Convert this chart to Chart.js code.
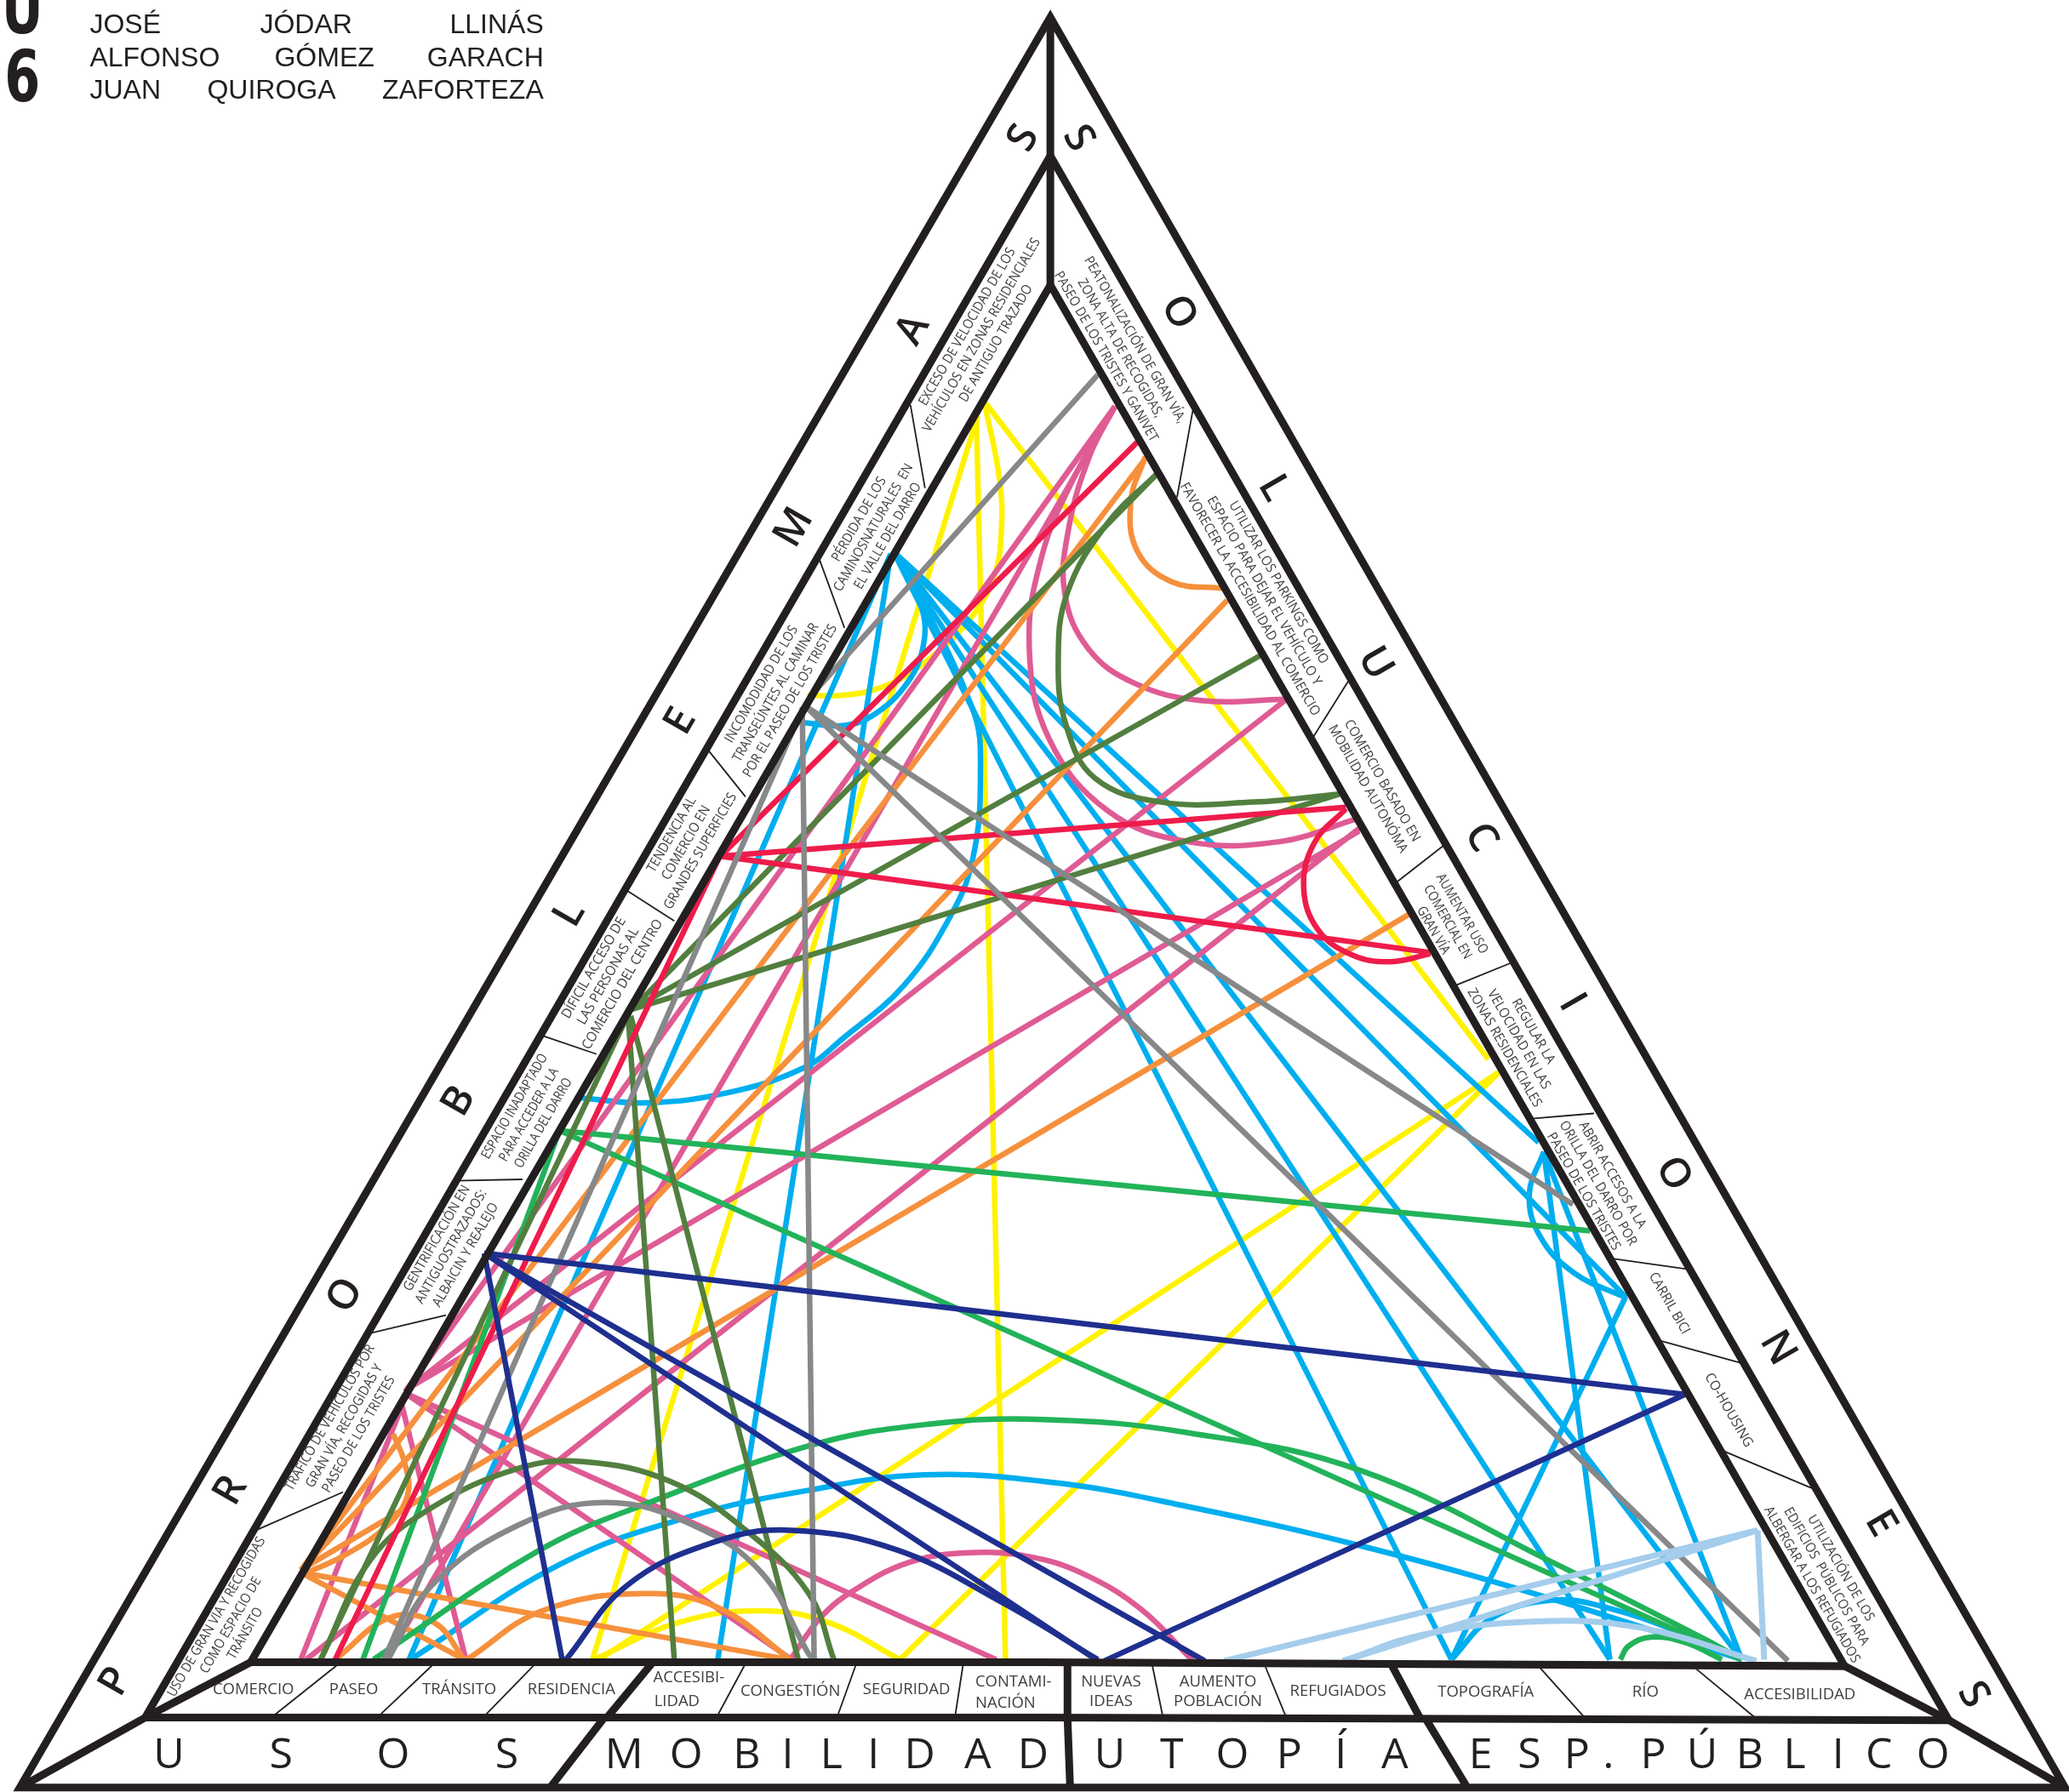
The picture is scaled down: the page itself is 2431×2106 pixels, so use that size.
<!DOCTYPE html>
<html>
<head>
<meta charset="utf-8">
<title>Problemas y soluciones</title>
<script src="https://cdn.jsdelivr.net/npm/chart.js@4/dist/chart.umd.min.js"></script>
<style>
  html, body { margin: 0; padding: 0; background: #fff; }
  canvas { display: block; }
</style>
</head>
<body>
<canvas id="triangle" width="2431" height="2106" style="width:2431px;height:2106px"></canvas>
<script>
const yellowLinks = [
  [[745,303],[1128,803]],
  [[741,315],[449,1258]],
  [[740,318],[762,1258]],
  [[1137,812],[454,1258]],
  [[1137,812],[682,1258]],
  [[746,305],[757,360],[759,400],[753,438],[732,473],[697,505],[668,521],[639,527],[612,527]],
  [[450,1258],[514,1230],[576,1221],[628,1230],[682,1258]]
];
const cyanLinks = [
  [[677,418],[1166,866]],
  [[677,418],[1232,983]],
  [[677,418],[1320,1258]],
  [[677,418],[1220,1258]],
  [[677,418],[1100,1258]],
  [[675,420],[310,1258]],
  [[675,420],[544,1258]],
  [[1232,983],[1100,1258]],
  [[1170,873],[1220,1258]],
  [[1170,873],[1320,1258]],
  [[678,417],[698,459],[700,488],[688,517],[662,542],[639,550],[610,548]],
  [[678,417],[737,537],[743,589],[737,652],[720,695],[685,747],[639,787],[610,809],[553,828],[490,836],[438,832]],
  [[311,1258],[426,1185],[525,1149],[611,1130],[700,1118],[800,1124],[900,1142],[1032,1172],[1176,1212],[1320,1258]],
  [[1100,1258],[1130,1227],[1176,1213],[1219,1219],[1277,1239],[1320,1258]],
  [[1170,873],[1159,905],[1167,937],[1193,965],[1233,984]]
];
const pinkLinks = [
  [[845,308],[307,1055]],
  [[845,308],[293,1258]],
  [[307,1056],[600,1258]],
  [[307,1056],[755,1258]],
  [[304,1063],[353,1258]],
  [[303,1070],[228,1258]],
  [[232,1258],[1030,628]],
  [[310,1052],[975,530]],
  [[310,1052],[1030,630]],
  [[845,308],[826,345],[810,400],[807,450],[825,492],[860,518],[910,531],[975,530]],
  [[845,308],[815,360],[790,420],[780,490],[795,560],[840,615],[900,638],[970,638],[1027,621]],
  [[599,1258],[622,1226],[648,1205],[690,1184],[735,1177],[780,1180],[821,1193],[865,1220],[904,1259]]
];
const redLinks = [
  [[546,649],[1020,612]],
  [[546,649],[1084,722]],
  [[547,648],[862,335]],
  [[545,650],[254,1258]],
  [[1020,613],[996,639],[988,673],[999,705],[1025,724],[1054,729],[1084,723]]
];
const orangeLinks = [
  [[228,1190],[1068,693]],
  [[228,1190],[870,345]],
  [[228,1190],[930,455]],
  [[228,1192],[598,1258]],
  [[228,1192],[352,1258]],
  [[868,346],[857,380],[862,418],[888,441],[926,446]],
  [[228,1194],[261,1179],[294,1156],[309,1133],[307,1110],[298,1087]],
  [[354,1258],[411,1221],[489,1208],[545,1219],[599,1258]],
  [[254,1258],[296,1226],[329,1230],[352,1258]]
];
const darkGreenLinks = [
  [[478,765],[243,1258]],
  [[479,765],[1015,602]],
  [[479,765],[955,497]],
  [[479,765],[876,360]],
  [[476,770],[511,1258]],
  [[478,770],[605,1258]],
  [[243,1258],[281,1182],[327,1143],[393,1113],[442,1108],[508,1123],[564,1159],[613,1208],[632,1258]],
  [[878,358],[839,397],[809,449],[802,500],[808,550],[830,590],[880,608],[950,608],[1015,602]]
];
const greenLinks = [
  [[424,857],[1205,933]],
  [[424,857],[1320,1258]],
  [[424,857],[275,1258]],
  [[283,1258],[409,1175],[492,1139],[613,1096],[700,1080],[790,1076],[900,1086],[1032,1115],[1176,1184],[1291,1242],[1320,1258]],
  [[1228,1258],[1234,1248],[1251,1241],[1277,1245],[1305,1258]]
];
const greyLinks = [
  [[610,535],[1355,1259]],
  [[610,535],[1192,913]],
  [[608,536],[617,1258]],
  [[603,549],[291,1258]],
  [[832,284],[614,528]],
  [[294,1258],[327,1202],[393,1156],[459,1139],[525,1156],[577,1192],[613,1254],[617,1258]]
];
const navyLinks = [
  [[367,950],[1277,1057]],
  [[367,950],[832,1259]],
  [[367,950],[913,1259]],
  [[367,950],[426,1258]],
  [[837,1259],[1277,1057]],
  [[429,1258],[475,1202],[541,1169],[600,1160],[680,1175],[760,1215],[832,1258]]
];
const lightBlueLinks = [
  [[928,1259],[1332,1160]],
  [[1018,1259],[1332,1160]],
  [[1018,1259],[1079,1239],[1166,1229],[1244,1234],[1331,1259]],
  [[1332,1160],[1337,1258]]
];

// frame of the triangle
const frameTriangles = [
  [[790,1355],[15,1355],[796,13],[1565,1355],[790,1355]],
  [[790,1302],[110,1302],[796,118],[1477,1304],[790,1302]],
  [[790,1260],[190,1260],[796,216],[1398,1263],[790,1260]]
];
const frameSpine = [[796,13],[796,216]];
const frameThick = [
  [[494,1261],[460,1302]],
  [[458,1302],[417,1355]],
  [[809,1260],[809,1302]],
  [[809,1302],[811,1355]],
  [[1054,1261],[1076,1302]],
  [[1080,1302],[1112,1355]],
  [[190,1260],[110,1302]],
  [[110,1302],[15,1355]],
  [[1398,1263],[1477,1304]],
  [[1477,1304],[1565,1355]]
];
const frameThin = [
  [[257,1261],[208,1300]], [[329,1261],[288,1300]], [[406,1261],[368,1300]],
  [[565,1261],[544,1300]], [[649,1261],[635,1300]], [[730,1261],[724,1300]],
  [[873,1261],[881,1300]], [[958,1261],[974,1300]],
  [[1166,1263],[1201,1302]], [[1283,1263],[1330,1302]],
  [[690,307],[701,370]], [[621,424],[640,476]], [[537,569],[565,604]],
  [[475,675],[511,698]], [[411,785],[452,799]], [[345,895],[396,894]],
  [[279,1011],[338,997]], [[194,1160],[260,1131]],
  [[904,311],[892,377]], [[1022,516],[995,559]], [[1094,641],[1058,669]],
  [[1145,730],[1103,747]], [[1208,844],[1161,848]], [[1278,962],[1222,954]],
  [[1319,1033],[1257,1016]], [[1373,1128],[1304,1099]]
];

// texts
const problemTexts = [
  ['USO DE GRAN VÍA Y RECOGIDAS','COMO ESPACIO DE','TRÁNSITO'],
  ['TRÁFICO DE VEHÍCULOS POR','GRAN VÍA, RECOGIDAS Y','PASEO DE LOS TRISTES'],
  ['GENTRIFICACIÓN EN','ANTIGUOSTRAZADOS:','ALBAICIN Y REALEJO'],
  ['ESPACIO INADAPTADO','PARA ACCEDER A LA','ORILLA DEL DARRO'],
  ['DÍFICIL ACCESO DE','LAS PERSONAS AL','COMERCIO DEL CENTRO'],
  ['TENDENCIA AL','COMERCIO EN','GRANDES SUPERFICIES'],
  ['INCOMODIDAD DE LOS','TRANSEÚNTES AL CAMINAR','POR EL PASEO DE LOS TRISTES'],
  ['PÉRDIDA DE LOS','CAMINOSNATURALES  EN','EL VALLE DEL DARRO'],
  ['EXCESO DE VELOCIDAD DE LOS','VEHÍCULOS EN ZONAS RESIDENCIALES','DE ANTIGUO TRAZADO']
];
const problemAnchors = [[175,1232],[261,1081],[342,945],[401,845],[461,740],[520,639],[588,525],[662,400],[744,254]];
const problemLengths = [138,126,98,90,112,100,132,110,168];

const solutionTexts = [
  ['PEATONALIZACIÓN DE GRAN VÍA,','ZONA ALTA DE RECOGIDAS,','PASEO DE LOS TRISTES Y GANIVET'],
  ['UTILIZAR LOS PARKINGS COMO','ESPACIO PARA DEJAR EL VEHÍCULO Y','FAVORECER LA ACCESIBILIDAD AL COMERCIO'],
  ['COMERCIO BASADO EN','MOBILIDAD AUTONÓMA'],
  ['AUMENTAR USO','COMERCIAL EN','GRAN VÍA'],
  ['REGULAR LA','VELOCIDAD EN LAS','ZONAS RESIDENCIALES'],
  ['ABRIR ACCESOS A LA','ORILLA DEL DARRO POR','PASEO DE LOS TRISTES'],
  ['CARRIL BICI'],
  ['CO-HOUSING'],
  ['UTILIZACIÓN DE LOS','EDIFICIOS  PÚBLICOS PARA','ALBERGAR A LOS REFUGIADOS']
];
const solutionAnchors = [[849,264],[958,448],[1042,595],[1097,699],[1151,788],[1211,897],[1265,988],[1310,1069],[1384,1195]];
const solutionLengths = [147,202,110,68,102,107,52,63,135];

const bottomTexts = ['COMERCIO','PASEO','TRÁNSITO','RESIDENCIA','ACCESIBI-','LIDAD','CONGESTIÓN','SEGURIDAD','CONTAMI-','NACIÓN',
  'NUEVAS','IDEAS','AUMENTO','POBLACIÓN','REFUGIADOS','TOPOGRAFÍA','RÍO','ACCESIBILIDAD'];
const bottomAnchors = [[192,1281],[268,1281],[348,1281],[433,1281],[522,1272],[513,1290],[599,1282],[687,1281],[768,1275],[762,1291],
  [842,1275],[842,1290],[923,1275],[923,1290],[1014,1282],[1126,1283],[1247,1283],[1364,1285]];

const bandLetters = ['U','S','O','S','M','O','B','I','L','I','D','A','D','U','T','O','P','Í','A','E','S','P','.','P','Ú','B','L','I','C','O'];
const bandX = [128,213,298,384,473,520,566,597,630,662,697,741,783,841,888,934,977,1016,1057,1122,1159,1195,1219,1253,1290,1326,1360,1393,1424,1465];

const sideLeftLetters = ['P','R','O','B','L','E','M','A','S'];
const sideLeftAnchors = [[88,1275],[175,1130],[262,982],[348,835],[432,693],[516,547],[602,400],[692,250],[776,105]];
const sideRightLetters = ['S','O','L','U','C','I','O','N','E','S'];
const sideRightAnchors = [[817,105],[893,237],[965,370],[1042,503],[1122,635],[1191,760],[1268,890],[1347,1022],[1425,1155],[1495,1285]];

const authorWords = ['JOSÉ','JÓDAR','LLINÁS','ALFONSO','GÓMEZ','GARACH','JUAN','QUIROGA','ZAFORTEZA'];
const authorX = [68,197,412,68,208,412,68,157,412];
const authorY = [25,25,25,50,50,50,75,75,75];

const INK = '#231f20';
const TEXT = '#404042';
const UNIT = 2431 / 1568; // px per axis unit

function makeDatasets(links, color, width, order, straight) {
  return links.map(function(pts) {
    return {
      data: pts.map(p => ({ x: p[0], y: p[1] })),
      borderColor: color,
      borderWidth: width,
      tension: (!straight && pts.length > 2) ? 0.4 : 0,
      pointRadius: 0,
      fill: false,
      showLine: true,
      order: order,
      clip: false,
      borderJoinStyle: 'miter',
      borderCapStyle: 'butt'
    };
  });
}

// rotated labels, lines stacked across the reading direction
function drawBlock(ctx, lines, px, py, angle, length, size, leading) {
  ctx.save();
  ctx.translate(px, py);
  ctx.rotate(angle);
  ctx.font = size + 'px "Open Sans"';
  ctx.fillStyle = TEXT;
  ctx.textAlign = 'center';
  ctx.textBaseline = 'middle';
  let longest = 0;
  lines.forEach(l => { longest = Math.max(longest, ctx.measureText(l).width); });
  ctx.scale(length * UNIT / longest, 1);
  lines.forEach(function(l, i) {
    ctx.fillText(l, 0, (i - (lines.length - 1) / 2) * leading);
  });
  ctx.restore();
}

const textPlugin = {
  id: 'textPlugin',
  afterDatasetsDraw(chart) {
    const ctx = chart.ctx;
    const sx = chart.scales.x, sy = chart.scales.y;
    const left = -60 * Math.PI / 180, right = 60 * Math.PI / 180;

    problemTexts.forEach(function(lines, i) {
      const a = problemAnchors[i];
      drawBlock(ctx, lines, sx.getPixelForValue(a[0]), sy.getPixelForValue(a[1]), left, problemLengths[i], 16, 19.5);
    });
    solutionTexts.forEach(function(lines, i) {
      const a = solutionAnchors[i];
      drawBlock(ctx, lines, sx.getPixelForValue(a[0]), sy.getPixelForValue(a[1]), right, solutionLengths[i], 16, 19.5);
    });

    ctx.save();
    ctx.textAlign = 'center';
    ctx.textBaseline = 'middle';
    ctx.fillStyle = TEXT;
    ctx.font = '18.5px "Open Sans"';
    bottomTexts.forEach(function(t, i) {
      const a = bottomAnchors[i];
      ctx.fillText(t, sx.getPixelForValue(a[0]), sy.getPixelForValue(a[1]));
    });

    ctx.fillStyle = INK;
    ctx.font = '400 50px "Open Sans"';
    bandLetters.forEach(function(t, i) {
      ctx.fillText(t, sx.getPixelForValue(bandX[i]), sy.getPixelForValue(1331));
    });

    ctx.font = '600 48px "Open Sans"';
    sideLeftLetters.forEach(function(t, i) {
      const a = sideLeftAnchors[i];
      ctx.save();
      ctx.translate(sx.getPixelForValue(a[0]), sy.getPixelForValue(a[1]));
      ctx.rotate(left);
      ctx.fillText(t, 0, 0);
      ctx.restore();
    });
    sideRightLetters.forEach(function(t, i) {
      const a = sideRightAnchors[i];
      ctx.save();
      ctx.translate(sx.getPixelForValue(a[0]), sy.getPixelForValue(a[1]));
      ctx.rotate(right);
      ctx.fillText(t, 0, 0);
      ctx.restore();
    });

    // authors, justified in three columns
    ctx.font = '32px "Liberation Sans"';
    ctx.textBaseline = 'alphabetic';
    authorWords.forEach(function(t, i) {
      ctx.textAlign = i % 3 === 2 ? 'right' : 'left';
      ctx.fillText(t, sx.getPixelForValue(authorX[i]), sy.getPixelForValue(authorY[i]));
    });

    // issue number, the U runs off the top edge
    ctx.font = 'bold 84px "DejaVu Sans"';
    ctx.textAlign = 'center';
    ctx.save();
    ctx.translate(sx.getPixelForValue(17), sy.getPixelForValue(25));
    ctx.scale(0.72, 1);
    ctx.fillText('U', 0, 0);
    ctx.restore();
    ctx.save();
    ctx.translate(sx.getPixelForValue(17), sy.getPixelForValue(77));
    ctx.scale(0.72, 1);
    ctx.fillText('6', 0, 0);
    ctx.restore();
    ctx.restore();
  }
};

document.addEventListener('DOMContentLoaded', function() {
  const datasets = [].concat(
    makeDatasets(frameTriangles, INK, 9, 0, true),
    makeDatasets([frameSpine], INK, 9, 0, true),
    makeDatasets(frameThick, INK, 9, 0, true),
    makeDatasets(frameThin, INK, 1.8, 0, true),
    makeDatasets(lightBlueLinks, '#a5cdec', 7, 1),
    makeDatasets(navyLinks, '#1f2f8f', 6.5, 1),
    makeDatasets(greyLinks, '#87888a', 6.5, 1),
    makeDatasets(redLinks, '#ee1c4b', 6.5, 1),
    makeDatasets(darkGreenLinks, '#527f3f', 6.5, 1),
    makeDatasets(greenLinks, '#22b35a', 6.5, 1),
    makeDatasets(orangeLinks, '#f6903c', 6.5, 1),
    makeDatasets(pinkLinks, '#df5b94', 6.5, 2),
    makeDatasets(cyanLinks, '#00aeef', 6.5, 2),
    makeDatasets(yellowLinks, '#fff200', 6.5, 3)
  );

  new Chart(document.getElementById('triangle'), {
    type: 'scatter',
    data: { datasets: datasets },
    options: {
      responsive: false,
      devicePixelRatio: 1,
      animation: false,
      layout: { padding: 0 },
      plugins: { legend: { display: false }, tooltip: { enabled: false } },
      scales: {
        x: { type: 'linear', min: 0, max: 1568, display: false },
        y: { type: 'linear', min: 0, max: 1358.4, reverse: true, display: false }
      }
    },
    plugins: [textPlugin]
  });
});
</script>
</body>
</html>
